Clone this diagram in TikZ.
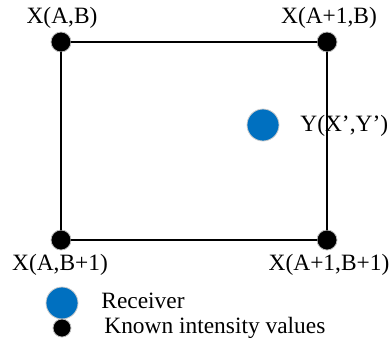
\documentclass[tikz,border=0pt]{standalone}
\usepackage{fontspec}
\setmainfont{Liberation Serif}
\usepackage{tikz}
\usetikzlibrary{positioning, calc}
\definecolor{RxBlue}{RGB}{0, 112, 192}
\tikzset{every node/.style={font=\fontsize{11.7}{14}\selectfont}, every path/.style={line cap=round, line join=round},
    known/.style={circle, fill=black, draw=black!25, line width=0.4pt, inner sep=0pt, minimum size=10pt},
    rx/.style={circle, fill=RxBlue, draw=black!20, line width=0.4pt, inner sep=0pt, minimum size=16pt}}

\begin{document}
\begin{tikzpicture}[x=0.5pt, y=-0.5pt]
    \useasboundingbox (0,0) rectangle (390,345);
    % grid corners
    \node [known] (ab) at (61,42) {};
    \node [known] (a1b) at (327,42) {};
    \node [known] (ab1) at (61,240) {};
    \node [known] (a1b1) at (327,240) {};
    \draw [line width=0.75pt] (ab) -- (a1b) -- (a1b1) -- (ab1) -- (ab);
    % corner labels
    \node (lab) at (62,18) {X(A,B)};
    \node (la1b) at (329,18) {X(A+1,B)};
    \node (lab1) at (60,265) {X(A,B+1)};
    \node (la1b1) at (329,265) {X(A+1,B+1)};
    % receiver
    \node [rx] (y) at (263,125) {};
    \node [anchor=base west, inner sep=0pt] (ly) at (300,131) {Y(X',Y')};
    % legend
    \node [rx] (legrx) at (62,303) {};
    \node [anchor=base west, inner sep=0pt] (legrxtext) at (101,308) {Receiver};
    \node [known, minimum size=9pt] (legknown) at (62,328) {};
    \node [anchor=base west, inner sep=0pt] (legknowntext) at (104,333) {Known intensity values};
\end{tikzpicture}
\end{document}
